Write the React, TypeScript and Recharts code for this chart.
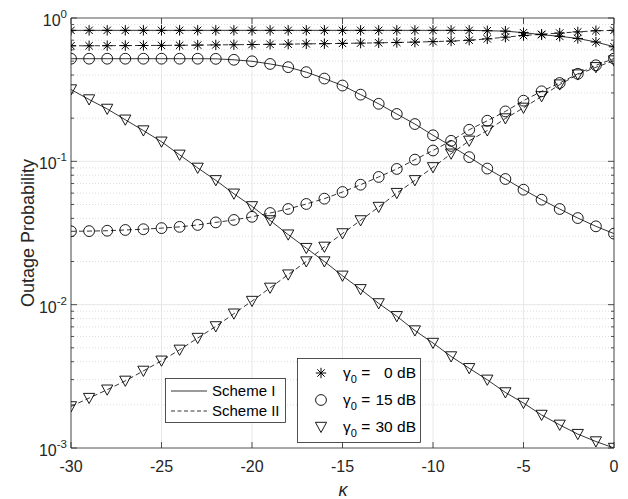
import React from 'react';
import { LineChart, Line, XAxis, YAxis, ReferenceLine, CartesianGrid } from 'recharts';

const kappa = [-30, -29, -28, -27, -26, -25, -24, -23, -22, -21, -20, -19, -18, -17, -16, -15, -14, -13, -12, -11, -10, -9, -8, -7, -6, -5, -4, -3, -2, -1, 0];

// gamma0 = 0 dB
const s0I = [0.82, 0.82, 0.82, 0.82, 0.82, 0.82, 0.82, 0.82, 0.82, 0.82, 0.82, 0.82, 0.82, 0.82, 0.82, 0.82, 0.82, 0.82, 0.82, 0.82, 0.82, 0.82, 0.82, 0.815, 0.81, 0.79, 0.765, 0.745, 0.72, 0.68, 0.63];
const s0II = [0.64, 0.64, 0.641, 0.642, 0.643, 0.644, 0.645, 0.647, 0.649, 0.651, 0.653, 0.655, 0.657, 0.66, 0.662, 0.665, 0.668, 0.671, 0.675, 0.679, 0.684, 0.69, 0.7, 0.715, 0.735, 0.755, 0.77, 0.785, 0.8, 0.815, 0.82];
// gamma0 = 15 dB
const s15I = [0.52, 0.52, 0.52, 0.52, 0.52, 0.52, 0.52, 0.52, 0.519, 0.511, 0.499, 0.478, 0.454, 0.419, 0.378, 0.338, 0.292, 0.252, 0.214, 0.182, 0.152, 0.128, 0.107, 0.089, 0.0753, 0.0634, 0.054, 0.0465, 0.0402, 0.0352, 0.0313];
const s15II = [0.0325, 0.0326, 0.0328, 0.0332, 0.0336, 0.0342, 0.0349, 0.036, 0.0375, 0.039, 0.041, 0.0436, 0.0465, 0.0504, 0.0549, 0.0611, 0.0687, 0.0778, 0.0885, 0.1028, 0.119, 0.139, 0.166, 0.192, 0.223, 0.265, 0.308, 0.352, 0.408, 0.468, 0.521];
// gamma0 = 30 dB
const s30I = [0.317, 0.27, 0.232, 0.195, 0.164, 0.137, 0.111, 0.09, 0.0737, 0.0594, 0.0485, 0.0387, 0.0308, 0.0248, 0.02, 0.0159, 0.0128, 0.0102, 0.0083, 0.0066, 0.0054, 0.00435, 0.0036, 0.00299, 0.00244, 0.00206, 0.0017, 0.00145, 0.00125, 0.00111, 0.001];
const s30II = [0.00195, 0.00223, 0.00255, 0.00294, 0.00345, 0.00406, 0.00484, 0.00585, 0.00705, 0.00865, 0.0106, 0.0131, 0.0162, 0.02, 0.0253, 0.0314, 0.0387, 0.048, 0.06, 0.0737, 0.0908, 0.113, 0.139, 0.164, 0.199, 0.236, 0.284, 0.343, 0.403, 0.453, 0.505];

const xTicks = [-30, -25, -20, -15, -10, -5, 0];
const yMajor = [0.001, 0.01, 0.1, 1];
const yMajorExp = ['-3', '-2', '-1', '0'];
const yMinor = [0.002, 0.003, 0.004, 0.005, 0.006, 0.007, 0.008, 0.009, 0.02, 0.03, 0.04, 0.05, 0.06, 0.07, 0.08, 0.09, 0.2, 0.3, 0.4, 0.5, 0.6, 0.7, 0.8, 0.9];
const yAllTicks = [...yMajor, ...yMinor].sort((a, b) => a - b);

const schemeLabels = ['Scheme I', 'Scheme II'];
const gammaLabels = ['0 dB', '15 dB', '30 dB'];

const data = kappa.map((k, i) => ({
  k,
  s0I: s0I[i], s0II: s0II[i],
  s15I: s15I[i], s15II: s15II[i],
  s30I: s30I[i], s30II: s30II[i],
}));

const FONT = '"Liberation Sans", Arial, Helvetica, sans-serif';
const AX = '#262626';

const StarShape = ({ cx, cy }: { cx: number; cy: number }) => {
  const s = 5.2, d = 3.7;
  return (
    <g stroke="#000" strokeWidth={1} fill="none">
      <line x1={cx - s} y1={cy} x2={cx + s} y2={cy} />
      <line x1={cx} y1={cy - s} x2={cx} y2={cy + s} />
      <line x1={cx - d} y1={cy - d} x2={cx + d} y2={cy + d} />
      <line x1={cx - d} y1={cy + d} x2={cx + d} y2={cy - d} />
    </g>
  );
};
const CircleShape = ({ cx, cy }: { cx: number; cy: number }) => (
  <circle cx={cx} cy={cy} r={5.4} stroke="#000" strokeWidth={0.9} fill="none" />
);
const TriShape = ({ cx, cy }: { cx: number; cy: number }) => (
  <polygon points={`${cx - 5.6},${cy - 4.7} ${cx + 5.6},${cy - 4.7} ${cx},${cy + 5.5}`} stroke="#000" strokeWidth={0.9} fill="none" />
);

const makeDot = (kind: string) => (props: any) => {
  const { cx, cy, index } = props;
  const key = `${kind}-${props.dataKey}-${index}`;
  if (cx == null || cy == null || isNaN(cx) || isNaN(cy)) return <g key={key} />;
  return (
    <g key={key}>
      {kind === 'star' && <StarShape cx={cx} cy={cy} />}
      {kind === 'circle' && <CircleShape cx={cx} cy={cy} />}
      {kind === 'tri' && <TriShape cx={cx} cy={cy} />}
    </g>
  );
};

const isMajor = (v: number) => yMajor.some((m) => Math.abs(m - v) / m < 1e-6);

const LeftTick = (props: any) => {
  const { x, y, payload } = props;
  const v = payload.value;
  const mi = yMajor.findIndex((m) => Math.abs(m - v) / m < 1e-6);
  const major = mi >= 0;
  return (
    <g>
      <line x1={x} y1={y} x2={x + (major ? 6 : 3)} y2={y} stroke={AX} strokeWidth={0.8} />
      {major && (
        <text x={x - 4} y={y + 8} textAnchor="end" fontSize={16} fill={AX} fontFamily={FONT}>
          <tspan>10</tspan>
          <tspan dy={-8} fontSize={11.5}>{yMajorExp[mi]}</tspan>
        </text>
      )}
    </g>
  );
};

const RightTick = (props: any) => {
  const { x, y, payload } = props;
  const major = isMajor(payload.value);
  return <line x1={x} y1={y} x2={x - (major ? 6 : 3)} y2={y} stroke={AX} strokeWidth={0.8} />;
};

const BottomTick = (props: any) => {
  const { x, y, payload } = props;
  return (
    <g>
      <line x1={x} y1={y} x2={x} y2={y - 6} stroke={AX} strokeWidth={0.8} />
      <text x={x} y={y + 24} textAnchor="middle" fontSize={16} fill={AX} fontFamily={FONT}>{String(payload.value)}</text>
    </g>
  );
};

const TopTick = (props: any) => {
  const { x, y } = props;
  return <line x1={x} y1={y} x2={x} y2={y + 6} stroke={AX} strokeWidth={0.8} />;
};

const W = 628;
const H = 499;

export default function App() {
  return (
    <div style={{ position: 'absolute', left: 0, top: 0, width: W, height: H, background: '#fff' }}>
      <LineChart width={W} height={H} data={data} margin={{ top: 0, right: 0, left: 0, bottom: 0 }}>
        <XAxis xAxisId="b" dataKey="k" type="number" domain={[-30, 0]} ticks={xTicks} height={51}
          tick={<BottomTick />} tickLine={false} tickSize={0} tickMargin={0} interval={0}
          axisLine={{ stroke: AX, strokeWidth: 0.8 }} allowDataOverflow />
        <XAxis xAxisId="t" dataKey="k" type="number" domain={[-30, 0]} ticks={xTicks} height={18} orientation="top"
          tick={<TopTick />} tickLine={false} tickSize={0} tickMargin={0} interval={0}
          axisLine={{ stroke: AX, strokeWidth: 0.8 }} allowDataOverflow />
        <YAxis yAxisId="l" type="number" scale="log" domain={[0.001, 1]} ticks={yAllTicks} width={71}
          tick={<LeftTick />} tickLine={false} tickSize={0} tickMargin={0} interval={0}
          axisLine={{ stroke: AX, strokeWidth: 0.8 }} allowDataOverflow />
        <YAxis yAxisId="r" orientation="right" type="number" scale="log" domain={[0.001, 1]} ticks={yAllTicks} width={14}
          tick={<RightTick />} tickLine={false} tickSize={0} tickMargin={0} interval={0}
          axisLine={{ stroke: AX, strokeWidth: 0.8 }} allowDataOverflow />
        <CartesianGrid xAxisId="b" yAxisId="l" horizontal={false} stroke="#e2e2e2" strokeWidth={0.8} />
        {yMinor.map((v) => (
          <ReferenceLine key={`mn${v}`} xAxisId="b" yAxisId="l" y={v} stroke="#cfcfcf" strokeWidth={0.7} strokeDasharray="1 2" />
        ))}
        {[0.01, 0.1].map((v) => (
          <ReferenceLine key={`mj${v}`} xAxisId="b" yAxisId="l" y={v} stroke="#e2e2e2" strokeWidth={0.8} />
        ))}
        <Line xAxisId="b" yAxisId="l" dataKey="s0I" stroke="#000" strokeWidth={0.8} dot={makeDot('star')} isAnimationActive={false} />
        <Line xAxisId="b" yAxisId="l" dataKey="s0II" stroke="#000" strokeWidth={0.8} strokeDasharray="5 3" dot={makeDot('star')} isAnimationActive={false} />
        <Line xAxisId="b" yAxisId="l" dataKey="s15I" stroke="#000" strokeWidth={0.8} dot={makeDot('circle')} isAnimationActive={false} />
        <Line xAxisId="b" yAxisId="l" dataKey="s15II" stroke="#000" strokeWidth={0.8} strokeDasharray="5 3" dot={makeDot('circle')} isAnimationActive={false} />
        <Line xAxisId="b" yAxisId="l" dataKey="s30I" stroke="#000" strokeWidth={0.8} dot={makeDot('tri')} isAnimationActive={false} />
        <Line xAxisId="b" yAxisId="l" dataKey="s30II" stroke="#000" strokeWidth={0.8} strokeDasharray="5 3" dot={makeDot('tri')} isAnimationActive={false} />
      </LineChart>
      <svg width={W} height={H} style={{ position: 'absolute', left: 0, top: 0, pointerEvents: 'none' }}>
        <text transform="translate(34,233) rotate(-90)" textAnchor="middle" fontSize={18} fill={AX} fontFamily={FONT}>Outage Probability</text>
        <text x={343} y={496} textAnchor="middle" fontSize={18} fontStyle="italic" fill={AX} fontFamily={FONT}>κ</text>
        {/* Scheme legend */}
        <rect x={165.5} y={378.5} width={120} height={44} fill="#fff" stroke={AX} strokeWidth={0.8} />
        <line x1={171} y1={391} x2={207} y2={391} stroke="#000" strokeWidth={0.8} />
        <line x1={171} y1={411} x2={207} y2={411} stroke="#000" strokeWidth={0.8} strokeDasharray="4 2.5" />
        <text x={212} y={396} fontSize={15} fill="#000" fontFamily={FONT}>{schemeLabels[0]}</text>
        <text x={212} y={416} fontSize={15} fill="#000" fontFamily={FONT}>{schemeLabels[1]}</text>
        {/* Gamma legend */}
        <rect x={297.5} y={358.5} width={123} height={84} fill="#fff" stroke={AX} strokeWidth={0.8} />
        <StarShape cx={321} cy={373} />
        <CircleShape cx={321} cy={400} />
        <TriShape cx={321} cy={427} />
        {[373, 400, 427].map((cy, i) => (
          <g key={`g${i}`}>
            <text x={343} y={cy + 5} fontSize={15.5} fill="#000" fontFamily={FONT}>
              <tspan>γ</tspan>
              <tspan dy={5} fontSize={11}>0</tspan>
              <tspan dy={-5}> =</tspan>
            </text>
            <text x={416} y={cy + 5} textAnchor="end" fontSize={15.5} fill="#000" fontFamily={FONT}>{gammaLabels[i]}</text>
          </g>
        ))}
      </svg>
    </div>
  );
}
